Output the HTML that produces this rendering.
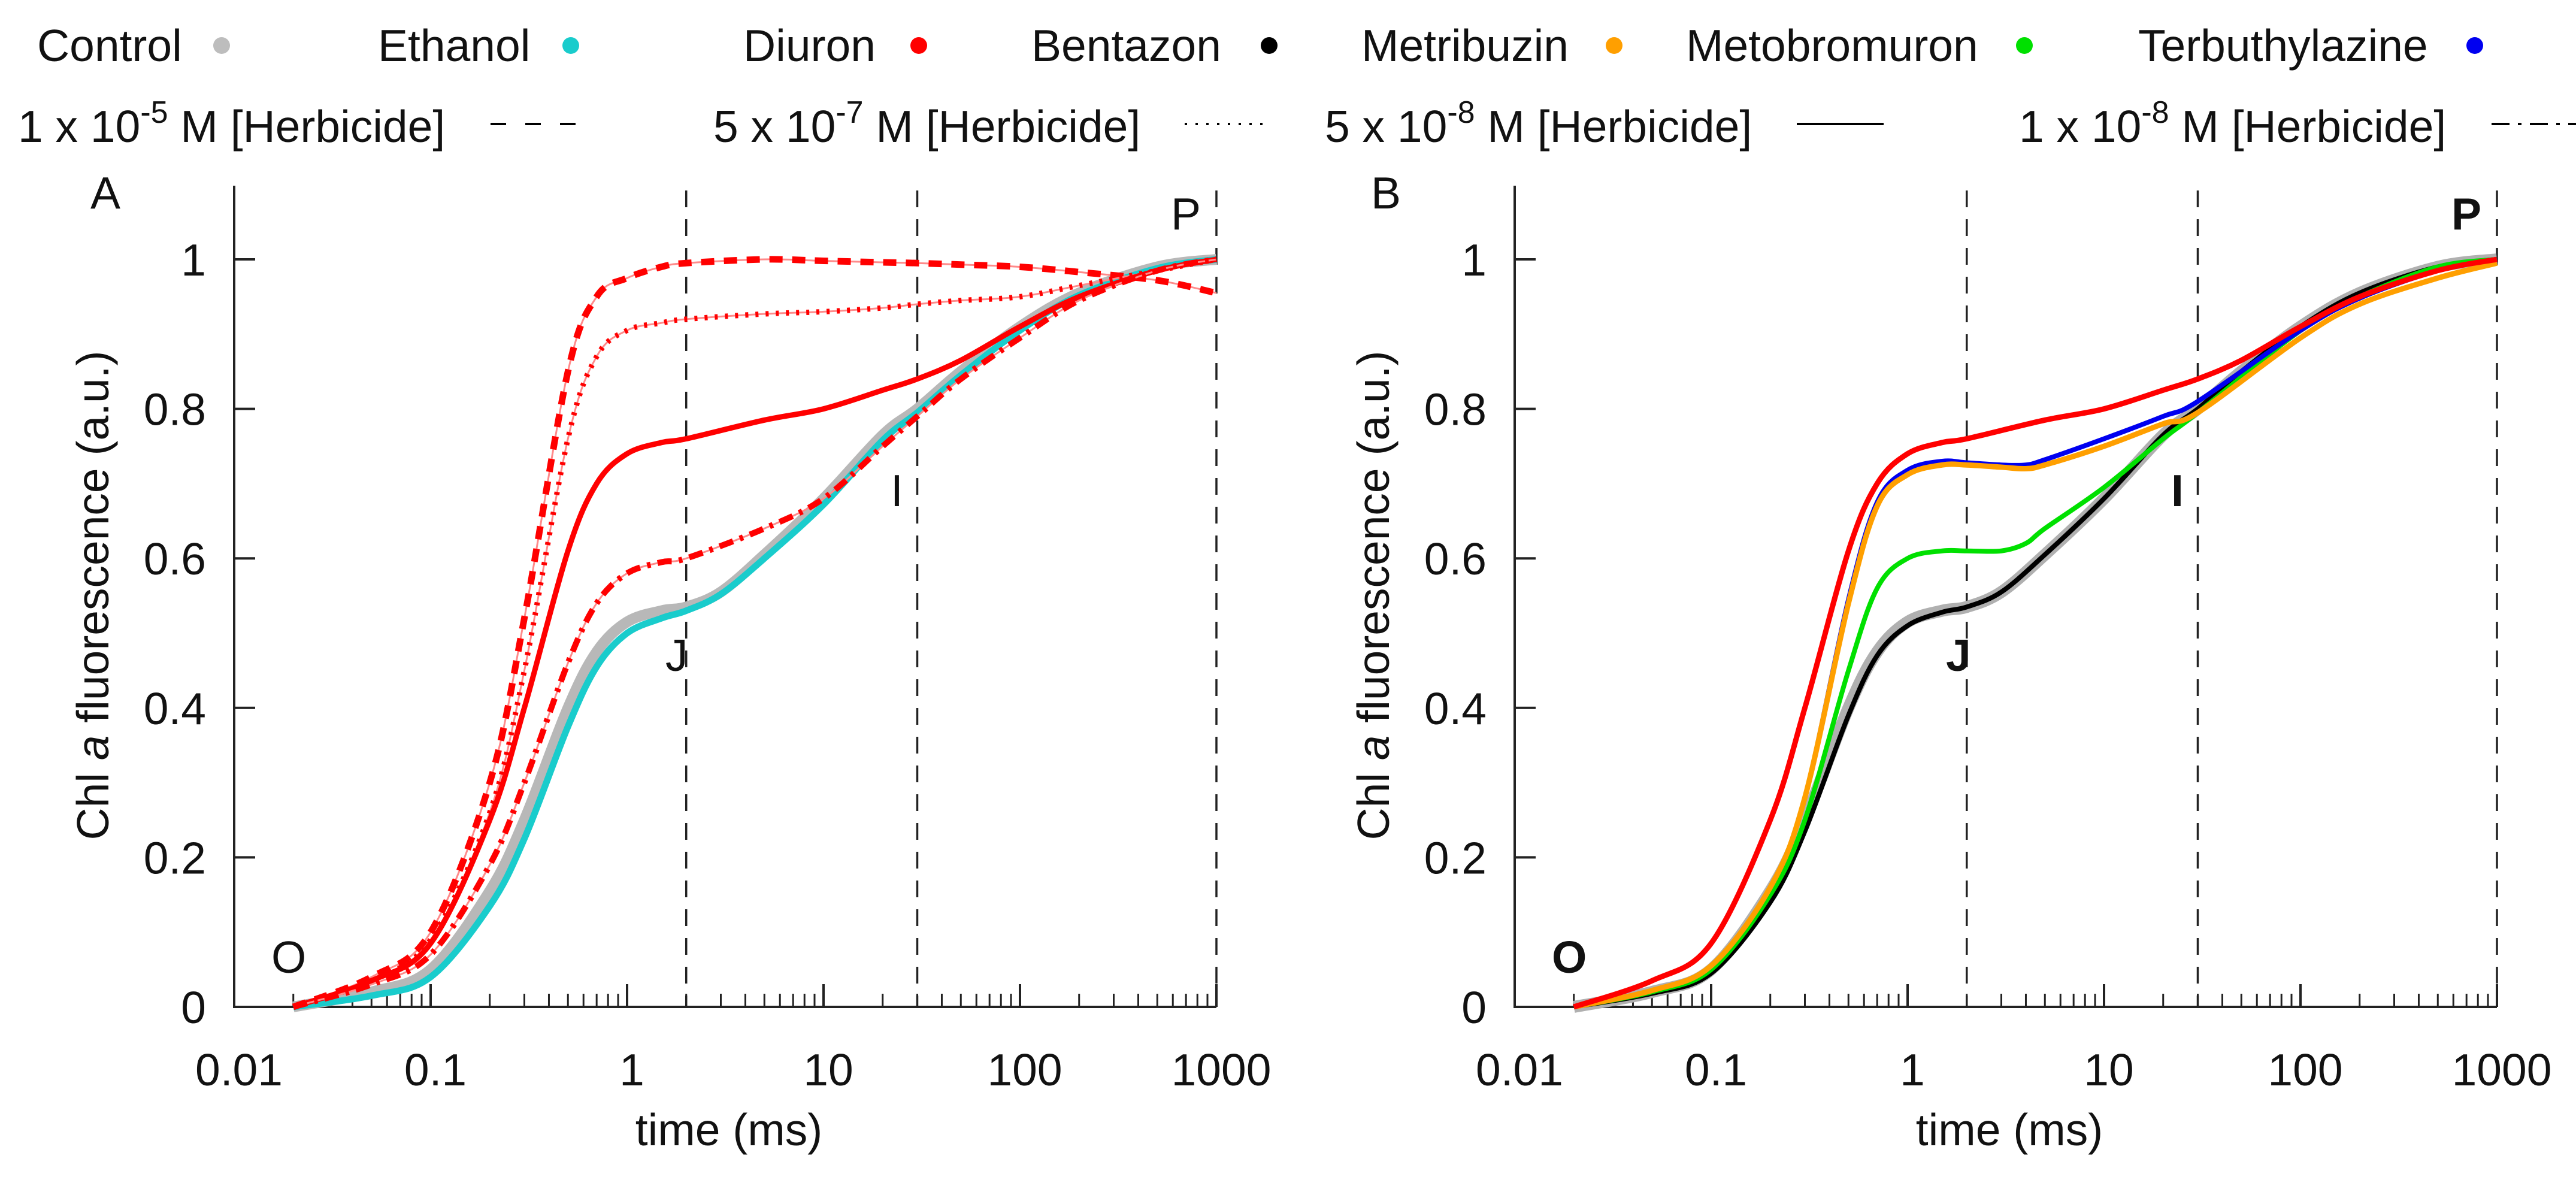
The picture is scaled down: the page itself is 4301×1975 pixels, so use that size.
<!DOCTYPE html>
<html><head><meta charset="utf-8">
<style>
html,body{margin:0;padding:0;background:#fff}
svg{display:block}
text{font-family:"Liberation Sans",sans-serif;fill:#111}
</style></head>
<body>
<svg id="chart" width="4301" height="1975" viewBox="0 0 4301 1975" xmlns="http://www.w3.org/2000/svg">
  <g font-size="75">
    <text x="62" y="102">Control</text>
    <circle cx="370" cy="76" r="14" fill="#bdbdbd"/>
    <text x="631" y="102">Ethanol</text>
    <circle cx="953" cy="76" r="14" fill="#19cccc"/>
    <text x="1241" y="102">Diuron</text>
    <circle cx="1534" cy="76" r="14" fill="#ff0000"/>
    <text x="1722" y="102">Bentazon</text>
    <circle cx="2119" cy="76" r="14" fill="#000"/>
    <text x="2273" y="102">Metribuzin</text>
    <circle cx="2695" cy="76" r="14" fill="#ff9f00"/>
    <text x="2815" y="102">Metobromuron</text>
    <circle cx="3380" cy="76" r="14" fill="#00e000"/>
    <text x="3570" y="102">Terbuthylazine</text>
    <circle cx="4132" cy="76" r="14" fill="#0000f0"/>

    <text x="30" y="237">1 x 10<tspan dy="-32" font-size="52">-5</tspan><tspan dy="32"> M [Herbicide]</tspan></text>
    <line x1="819" y1="207" x2="967" y2="207" stroke="#000" stroke-width="4" stroke-dasharray="26,32"/>
    <text x="1191" y="237">5 x 10<tspan dy="-32" font-size="52">-7</tspan><tspan dy="32"> M [Herbicide]</tspan></text>
    <line x1="1978" y1="207" x2="2112" y2="207" stroke="#000" stroke-width="4" stroke-dasharray="4,14"/>
    <text x="2212" y="237">5 x 10<tspan dy="-32" font-size="52">-8</tspan><tspan dy="32"> M [Herbicide]</tspan></text>
    <line x1="3000" y1="207" x2="3145" y2="207" stroke="#000" stroke-width="4"/>
    <text x="3371" y="237">1 x 10<tspan dy="-32" font-size="52">-8</tspan><tspan dy="32"> M [Herbicide]</tspan></text>
    <line x1="4160" y1="207" x2="4301" y2="207" stroke="#000" stroke-width="4" stroke-dasharray="30,14,6,14"/>
  </g>
  <g id="panelA"></g>
  <g id="panelB"></g>
</svg>
<script>
// ---- data (time in ms, normalized fluorescence) ----
const xTickValues = [0.01, 0.1, 1, 10, 100, 1000];
const xTickLabels = ["0.01", "0.1", "1", "10", "100", "1000"];
const yTickValues = [0, 0.2, 0.4, 0.6, 0.8, 1];
const yTickLabels = ["0", "0.2", "0.4", "0.6", "0.8", "1"];
const phaseLines = [2, 30, 1000];

const tControl = [0.02, 0.05, 0.1, 0.2, 0.3, 0.5, 0.7, 1, 1.5, 2, 3, 5, 10, 20, 30, 50, 100, 200, 500, 1000];
const vControl = [0, 0.02, 0.05, 0.155, 0.25, 0.40, 0.475, 0.515, 0.53, 0.535, 0.555, 0.605, 0.68, 0.765, 0.80, 0.85, 0.91, 0.955, 0.99, 1.0];
const vEthanol = [0, 0.015, 0.04, 0.135, 0.225, 0.375, 0.455, 0.5, 0.52, 0.53, 0.552, 0.6, 0.672, 0.758, 0.795, 0.845, 0.905, 0.952, 0.988, 1.0];
const vBentazon = [0, 0.018, 0.045, 0.14, 0.235, 0.39, 0.47, 0.51, 0.528, 0.535, 0.555, 0.605, 0.68, 0.765, 0.80, 0.85, 0.91, 0.955, 0.99, 1.0];

const tDiuron = [0.02, 0.05, 0.1, 0.2, 0.3, 0.5, 0.7, 1, 1.5, 2, 5, 10, 20, 30, 50, 100, 200, 500, 1000];
const vDiuron5e8 = [0, 0.035, 0.085, 0.25, 0.40, 0.61, 0.70, 0.74, 0.755, 0.76, 0.785, 0.80, 0.825, 0.84, 0.865, 0.91, 0.95, 0.985, 1.0];
const vDiuron1e8 = [0, 0.03, 0.07, 0.19, 0.30, 0.46, 0.54, 0.58, 0.595, 0.60, 0.64, 0.68, 0.75, 0.79, 0.84, 0.895, 0.945, 0.985, 1.0];
const vDiuron5e7 = [0, 0.035, 0.09, 0.26, 0.45, 0.76, 0.87, 0.905, 0.915, 0.92, 0.927, 0.93, 0.935, 0.94, 0.945, 0.95, 0.965, 0.985, 1.0];
const vDiuron1e5 = [0, 0.04, 0.10, 0.30, 0.52, 0.85, 0.95, 0.975, 0.99, 0.995, 1.0, 0.998, 0.996, 0.995, 0.993, 0.99, 0.983, 0.972, 0.955];

const tHerb = [0.02, 0.05, 0.1, 0.2, 0.3, 0.5, 0.7, 1, 1.5, 2, 3, 4, 5, 10, 20, 30, 100, 200, 500, 1000];
const vMetobromuron = [0, 0.02, 0.05, 0.15, 0.25, 0.45, 0.56, 0.60, 0.61, 0.61, 0.61, 0.62, 0.64, 0.695, 0.76, 0.795, 0.905, 0.95, 0.99, 1.0];
const vMetribuzin = [0, 0.022, 0.055, 0.16, 0.28, 0.54, 0.67, 0.712, 0.725, 0.725, 0.722, 0.72, 0.725, 0.75, 0.78, 0.795, 0.895, 0.94, 0.975, 0.995];
const vTerbuthylazine = [0, 0.022, 0.055, 0.16, 0.28, 0.545, 0.675, 0.718, 0.73, 0.728, 0.725, 0.725, 0.732, 0.76, 0.79, 0.81, 0.905, 0.948, 0.985, 1.0];

const NS = "http://www.w3.org/2000/svg";
function mk(tag, attrs, parent) {
  const e = document.createElementNS(NS, tag);
  for (const k in attrs) e.setAttribute(k, attrs[k]);
  parent.appendChild(e);
  return e;
}

function buildPanel(g, left, letter) {
  const right = left + 1640, y0 = 1681, y1 = 433, top = 310;
  const sx = v => left + (Math.log10(v) + 2) / 5 * (right - left);
  const sy = v => y0 - v * (y0 - y1);
  const pathFor = (ts, vs) => {
    const p = ts.map((t, i) => [sx(t), sy(vs[i])]);
    let d = "M" + p[0][0] + "," + p[0][1];
    for (let i = 0; i < p.length - 1; i++) {
      const a = p[Math.max(0, i - 1)], b = p[i], c = p[i + 1], e = p[Math.min(p.length - 1, i + 2)];
      const c1 = [b[0] + (c[0] - a[0]) / 6, b[1] + (c[1] - a[1]) / 6];
      const c2 = [c[0] - (e[0] - b[0]) / 6, c[1] - (e[1] - b[1]) / 6];
      d += "C" + c1[0] + "," + c1[1] + " " + c2[0] + "," + c2[1] + " " + c[0] + "," + c[1];
    }
    return d;
  };
  const line = (ts, vs, color, w, dash, name) => {
    const el = mk("path", {d: pathFor(ts, vs), fill: "none", stroke: color, "stroke-width": w, "stroke-linecap": "butt", "stroke-linejoin": "round"}, g);
    if (dash) el.setAttribute("stroke-dasharray", dash);
    
    
    return el;
  };

  const ax = mk("path", {d: `M${left},${top}V${y0}H${right}`, fill: "none", stroke: "#222", "stroke-width": 4}, g);
  
  

  yTickValues.forEach((v, i) => {
    if (v > 0) {
      const t = mk("line", {x1: left, x2: left + 35, y1: sy(v), y2: sy(v), stroke: "#222", "stroke-width": 4}, g);
      
      
    }
    const lb = mk("text", {x: left - 47, y: sy(v) + 27, "text-anchor": "end", "font-size": 75}, g);
    lb.textContent = yTickLabels[i];
    
    
  });
  xTickValues.forEach((v, i) => {
    const t = mk("line", {x1: sx(v), x2: sx(v), y1: y0, y2: y0 - 38, stroke: "#222", "stroke-width": 4}, g);
    
    
    if (i < xTickValues.length - 1) {
      for (let m = 2; m <= 9; m++) {
        const mt = mk("line", {x1: sx(v * m), x2: sx(v * m), y1: y0, y2: y0 - 22, stroke: "#222", "stroke-width": 3}, g);
        
        
      }
    }
    const lb = mk("text", {x: sx(v) + 8, y: 1812, "text-anchor": "middle", "font-size": 75}, g);
    lb.textContent = xTickLabels[i];
    
    
  });

  phaseLines.forEach(v => {
    const l = mk("line", {x1: sx(v), x2: sx(v), y1: 318, y2: y0, stroke: "#222", "stroke-width": 3.5, "stroke-dasharray": "28,20"}, g);
    
    
  });

  const xt = mk("text", {x: left + 826, y: 1912, "text-anchor": "middle", "font-size": 75}, g);
  xt.textContent = "time (ms)";
  
  
  const yt = mk("text", {x: 0, y: 0, "text-anchor": "middle", "font-size": 75, transform: `translate(${left - 210},994) rotate(-90)`}, g);
  yt.innerHTML = 'Chl <tspan font-style="italic">a</tspan> fluorescence (a.u.)';
  
  

  const pl = mk("text", {x: left - 240, y: 348, "font-size": 75}, g);
  pl.textContent = letter;
  
  
  const bold = letter === "B" ? "bold" : "normal";
  [["O", left + 62, 1624], ["J", left + 720, 1120], ["I", left + 1096, 845], ["P", left + 1564, 383]].forEach(([s, x, y]) => {
    const tt = mk("text", {x: x, y: y, "font-size": 75, "font-weight": bold}, g);
    tt.textContent = s;
    
    
  });
  return line;
}

const lineA = buildPanel(document.getElementById("panelA"), 391, "A");
lineA(tControl, vControl, "#b8b8b8", 18, null, "series-control");
lineA(tControl, vEthanol, "#19cccc", 11, null, "series-ethanol");
lineA(tDiuron, vDiuron1e5, "#ff8a8a", 3, null, "series-diuron-1e-5-thin");
lineA(tDiuron, vDiuron1e5, "#ff0000", 11, "22,16", "series-diuron-1e-5");
lineA(tDiuron, vDiuron5e7, "#ff8a8a", 3, null, "series-diuron-5e-7-thin");
lineA(tDiuron, vDiuron5e7, "#ff0000", 9, "5,12", "series-diuron-5e-7");
lineA(tDiuron, vDiuron5e8, "#ff0000", 9, null, "series-diuron-5e-8");
lineA(tDiuron, vDiuron1e8, "#ff8a8a", 3, null, "series-diuron-1e-8-thin");
lineA(tDiuron, vDiuron1e8, "#ff0000", 10, "24,12,6,12", "series-diuron-1e-8");

const lineB = buildPanel(document.getElementById("panelB"), 2529, "B");
lineB(tControl, vControl, "#b0b0b0", 20, null, "series-control");
lineB(tControl, vBentazon, "#000000", 8, null, "series-bentazon");
lineB(tHerb, vMetobromuron, "#00e000", 8, null, "series-metobromuron");
lineB(tHerb, vTerbuthylazine, "#0000f0", 8, null, "series-terbuthylazine");
lineB(tHerb, vMetribuzin, "#ff9f00", 9, null, "series-metribuzin");
lineB(tDiuron, vDiuron5e8, "#ff0000", 9, null, "series-diuron");
</script>
</body></html>
